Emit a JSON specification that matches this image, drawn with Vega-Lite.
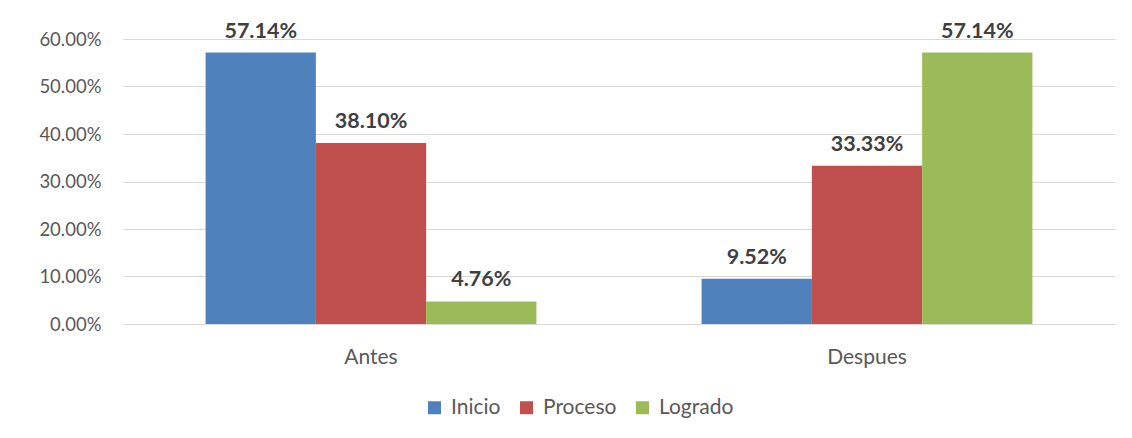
{
  "$schema": "https://vega.github.io/schema/vega-lite/v6.json",
  "width": 992,
  "height": 285,
  "autosize": "none",
  "padding": {"left": 123, "top": 39, "right": 17, "bottom": 114},
  "background": "white",
  "data": {
    "values": [
      {"periodo": "Antes", "nivel": "Inicio", "valor": 0.5714},
      {"periodo": "Antes", "nivel": "Proceso", "valor": 0.3810},
      {"periodo": "Antes", "nivel": "Logrado", "valor": 0.0476},
      {"periodo": "Despues", "nivel": "Inicio", "valor": 0.0952},
      {"periodo": "Despues", "nivel": "Proceso", "valor": 0.3333},
      {"periodo": "Despues", "nivel": "Logrado", "valor": 0.5714}
    ]
  },
  "encoding": {
    "x": {
      "field": "periodo", "type": "nominal", "sort": ["Antes", "Despues"],
      "scale": {"paddingInner": 0.333, "paddingOuter": 0.1665},
      "axis": {"title": null, "labelAngle": 0, "ticks": false, "domain": true, "domainColor": "#d9d9d9", "labelPadding": 22, "labelFont": "Lato", "labelFontSize": 21, "labelColor": "#595959"}
    },
    "xOffset": {"field": "nivel", "sort": ["Inicio", "Proceso", "Logrado"]},
    "y": {
      "field": "valor", "type": "quantitative",
      "scale": {"domain": [0, 0.6], "nice": false},
      "axis": {"title": null, "format": ".2%", "values": [0, 0.1, 0.2, 0.3, 0.4, 0.5, 0.6], "labelOverlap": false, "ticks": false, "domain": false, "gridColor": "#d9d9d9", "labelPadding": 22, "labelFont": "Lato", "labelFontSize": 18.5, "labelColor": "#595959"}
    }
  },
  "layer": [
    {
      "mark": {"type": "bar"},
      "encoding": {
        "color": {
          "field": "nivel", "type": "nominal", "sort": ["Inicio", "Proceso", "Logrado"],
          "scale": {"domain": ["Inicio", "Proceso", "Logrado"], "range": ["#4F81BD", "#C0504D", "#9BBB59"]},
          "legend": {"title": null, "orient": "none", "direction": "horizontal", "legendX": 301, "legendY": 358, "symbolType": "square", "symbolSize": 169, "symbolStrokeWidth": 0, "symbolOpacity": 1, "labelFont": "Lato", "labelFontSize": 21, "labelColor": "#595959", "labelOffset": 6, "columnPadding": 15}
        }
      }
    },
    {
      "mark": {"type": "text", "baseline": "bottom", "dy": -10, "font": "Lato", "fontSize": 21.5, "fontWeight": "bold", "color": "#404040"},
      "encoding": {
        "text": {"field": "valor", "type": "quantitative", "format": ".2%"}
      }
    }
  ],
  "config": {"view": {"stroke": null}}
}
